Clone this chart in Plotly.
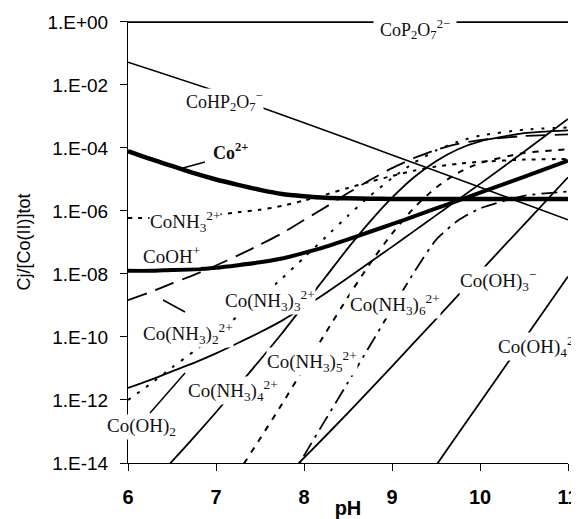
import plotly.graph_objects as go

# ---- data (log10 of Cj/[Co(II)]tot) ----
ph = [6, 6.25, 6.5, 6.75, 7, 7.25, 7.5, 7.75, 8, 8.25, 8.5, 8.75, 9, 9.25, 9.5, 9.75, 10, 10.5, 11]

co2 = [-4.10, -4.35, -4.57, -4.80, -5.00, -5.17, -5.33, -5.46, -5.53, -5.58, -5.60, -5.61, -5.62,
       -5.62, -5.62, -5.62, -5.62, -5.62, -5.62]
cooh = [-7.90, -7.90, -7.87, -7.85, -7.80, -7.72, -7.63, -7.51, -7.33, -7.13, -6.90, -6.66, -6.42,
        -6.17, -5.92, -5.67, -5.42, -4.92, -4.40]
cooh2 = [-11.62, -11.37, -11.09, -10.82, -10.52, -10.19, -9.85, -9.48, -9.05, -8.60, -8.12, -7.63,
         -7.14, -6.64, -6.14, -5.64, -5.14, -4.12, -3.08]
conh3_1 = [-6.22, -6.22, -6.19, -6.17, -6.12, -6.04, -5.96, -5.84, -5.67, -5.48, -5.27, -5.07, -4.89,
           -4.72, -4.59, -4.50, -4.44, -4.37, -4.35]
conh3_2 = [-8.83, -8.58, -8.30, -8.03, -7.73, -7.41, -7.07, -6.71, -6.29, -5.87, -5.43, -5.02, -4.64,
           -4.32, -4.06, -3.87, -3.75, -3.62, -3.57]
conh3_3 = [-12.00, -11.50, -10.97, -10.45, -9.91, -9.33, -8.75, -8.14, -7.48, -6.82, -6.15, -5.52,
           -4.96, -4.47, -4.08, -3.80, -3.61, -3.42, -3.35]
conh3_4 = [-15.48, -14.73, -13.95, -13.18, -12.39, -11.56, -10.73, -9.88, -8.98, -8.08, -7.18, -6.34,
           -5.58, -4.93, -4.42, -4.04, -3.79, -3.53, -3.44]
conh3_5 = [-19.50, -18.45, -17.43, -16.40, -15.38, -14.31, -13.23, -12.13, -10.98, -9.85, -8.73, -7.67,
           -6.72, -5.90, -5.26, -4.79, -4.48, -4.16, -4.04]
ph_nh6 = [7.5, 7.75, 8, 8.25, 8.5, 8.75, 9, 9.25, 9.5, 9.75, 10, 10.5, 11]
conh3_6 = [-16.40, -15.05, -13.77, -12.60, -11.44, -10.27, -9.10, -7.95, -6.92, -6.30, -5.92, -5.52, -5.38]

ph_oh3 = [7.75, 8, 8.5, 9, 9.5, 10, 10.5, 11]
cooh3 = [-14.52, -13.84, -12.41, -10.93, -9.43, -7.93, -6.43, -4.93]
ph_oh4 = [9.25, 9.5, 10, 10.5, 11]
cooh4 = [-15.08, -14.08, -12.08, -10.08, -8.08]

ph_p = [6, 7, 8, 9, 10, 11]
cohp2o7 = [-1.28, -2.20, -3.20, -4.22, -5.25, -6.28]
ph_p0 = [6, 11]
cop2o7 = [-0.005, -0.005]

y_tickvals = [0, -2, -4, -6, -8, -10, -12, -14]
y_ticktext = ["1.E+00", "1.E-02", "1.E-04", "1.E-06", "1.E-08", "1.E-10", "1.E-12", "1.E-14"]
x_tickvals = [6, 7, 8, 9, 10, 11]

series = [
    (ph_p0, cop2o7, 1.6, "solid"),
    (ph_p, cohp2o7, 1.6, "solid"),
    (ph, co2, 4.5, "solid"),
    (ph, cooh, 4.0, "solid"),
    (ph, cooh2, 1.8, "solid"),
    (ph, conh3_1, 2.0, "4px,6px"),
    (ph, conh3_2, 1.8, "20px,9px"),
    (ph, conh3_3, 2.0, "3px,8px"),
    (ph, conh3_4, 1.8, "solid"),
    (ph, conh3_5, 2.0, "6px,7px"),
    (ph_nh6, conh3_6, 1.8, "16px,6px,3px,6px"),
    (ph_oh3, cooh3, 1.8, "solid"),
    (ph_oh4, cooh4, 1.8, "solid"),
]

fig = go.Figure()
for xs, ys, w, d in series:
    fig.add_trace(go.Scatter(x=xs, y=ys, mode="lines",
                             line=dict(color="black", width=w, dash=d, shape="spline", smoothing=0.6),
                             hoverinfo="skip"))

serif = "Liberation Serif, Times New Roman, serif"
labels = [
    (9.26, -0.25, "CoP<sub>2</sub>O<sub>7</sub><sup>2−</sup>", 18, 6),
    (7.10, -2.51, "CoHP<sub>2</sub>O<sub>7</sub><sup>−</sup>", 18, 0),
    (7.16, -4.10, "<b>Co<sup>2+</sup></b>", 18, 0),
    (6.65, -6.32, "CoNH<sub>3</sub><sup>2+</sup>", 19, 0),
    (6.49, -7.40, "CoOH<sup>+</sup>", 19, 0),
    (6.68, -9.90, "Co(NH<sub>3</sub>)<sub>2</sub><sup>2+</sup>", 19, 0),
    (7.61, -8.83, "Co(NH<sub>3</sub>)<sub>3</sub><sup>2+</sup>", 19, 0),
    (7.19, -11.71, "Co(NH<sub>3</sub>)<sub>4</sub><sup>2+</sup>", 19, 0),
    (8.09, -10.79, "Co(NH<sub>3</sub>)<sub>5</sub><sup>2+</sup>", 19, 0),
    (9.03, -8.98, "Co(NH<sub>3</sub>)<sub>6</sub><sup>2+</sup>", 19, 0),
    (10.20, -8.22, "Co(OH)<sub>3</sub><sup>−</sup>", 19, 0),
    (10.68, -10.29, "Co(OH)<sub>4</sub><sup>2−</sup>", 19, 0),
    (6.15, -12.86, "Co(OH)<sub>2</sub>", 19, 0),
]
for x, y, t, s, pad in labels:
    fig.add_annotation(x=x, y=y, xref="x", yref="y", text=t, showarrow=False,
                       font=dict(family=serif, size=s, color="#111"),
                       bgcolor="white", borderpad=pad)

leaders = [
    (6.625, -4.635, 6.875, -4.444),
    (6.398, -8.825, 6.648, -9.206),
    (6.25, -12.41, 6.648, -11.14),
]
for x0, y0, x1, y1 in leaders:
    fig.add_shape(type="line", x0=x0, y0=y0, x1=x1, y1=y1, xref="x", yref="y",
                  line=dict(color="black", width=1.5))

sans = "Liberation Sans, Arial, sans-serif"
# the page body adds an 8px offset; margins are set so the plot lands where the reference has it
fig.update_layout(
    width=579, height=511,
    margin=dict(l=120, r=19, t=13, b=56, autoexpand=False),
    plot_bgcolor="white", paper_bgcolor="white",
    showlegend=False,
    xaxis=dict(range=[6, 11], tickvals=x_tickvals, showgrid=False, zeroline=False,
               automargin=False, ticklabeloverflow="allow",
               showline=True, linecolor="black", linewidth=1,
               ticks="outside", ticklen=7, tickcolor="black",
               tickfont=dict(family=sans, size=20, color="black", weight="bold"),
               ticklabelstandoff=9,
               title=dict(text="pH", font=dict(family=sans, size=20, color="black", weight="bold"),
                          standoff=0)),
    yaxis=dict(range=[-14, 0.03], tickvals=y_tickvals, ticktext=y_ticktext,
               showgrid=False, zeroline=False, automargin=False,
               showline=True, linecolor="black", linewidth=1,
               ticks="outside", ticklen=7, tickcolor="black",
               tickfont=dict(family=sans, size=19, color="black"),
               ticklabelstandoff=8,
               title=dict(text="Cj/[Co(II)]tot", font=dict(family=sans, size=18, color="black"),
                          standoff=12)),
)

fig.write_html("out.html")
